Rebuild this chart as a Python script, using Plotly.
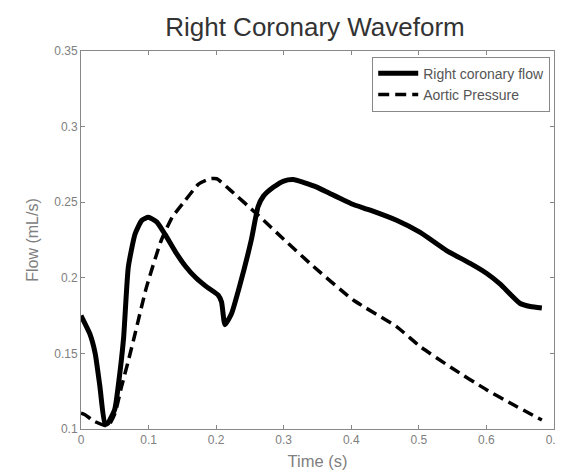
import plotly.graph_objects as go

flow_t = [0.0, 0.013, 0.021, 0.028, 0.0355, 0.040, 0.050, 0.055, 0.063, 0.070, 0.080, 0.090, 0.0996,
          0.112, 0.124, 0.140, 0.154, 0.170, 0.186, 0.203, 0.208, 0.213, 0.2225, 0.235, 0.252,
          0.262, 0.270, 0.285, 0.300, 0.314, 0.330, 0.349, 0.3685, 0.400, 0.428, 0.467, 0.502,
          0.541, 0.576, 0.600, 0.620, 0.650, 0.665, 0.682]
flow_v = [0.175, 0.163, 0.150, 0.128, 0.103, 0.104, 0.113, 0.128, 0.160, 0.207, 0.229, 0.238, 0.240,
          0.237, 0.229, 0.217, 0.208, 0.200, 0.194, 0.1886, 0.184, 0.169, 0.176, 0.195, 0.225,
          0.247, 0.254, 0.260, 0.264, 0.265, 0.263, 0.260, 0.2557, 0.249, 0.2447, 0.238, 0.230,
          0.218, 0.2095, 0.203, 0.196, 0.183, 0.181, 0.180]

press_t = [0.0, 0.006, 0.020, 0.040, 0.050, 0.060, 0.070, 0.080, 0.097, 0.119, 0.135, 0.154,
           0.174, 0.191, 0.201, 0.216, 0.2624, 0.300, 0.339, 0.403, 0.467, 0.502, 0.550, 0.600,
           0.640, 0.682]
press_v = [0.1105, 0.1094, 0.105, 0.102, 0.110, 0.128, 0.145, 0.163, 0.194, 0.225, 0.240, 0.251,
           0.262, 0.2655, 0.2655, 0.260, 0.2413, 0.2255, 0.2095, 0.1853, 0.1677, 0.1545, 0.140, 0.126,
           0.116, 0.106]

x_ticks = [0, 0.1, 0.2, 0.3, 0.4, 0.5, 0.6, 0.7]
x_tick_labels = ["0", "0.1", "0.2", "0.3", "0.4", "0.5", "0.6", "0.7"]
y_ticks = [0.1, 0.15, 0.2, 0.25, 0.3, 0.35]
y_tick_labels = ["0.1", "0.15", "0.2", "0.25", "0.3", "0.35"]

FONT = "Arial, Liberation Sans, sans-serif"
# page body has an 8px default margin, so the figure is drawn 8px in from the top-left
W, H = 555, 465

fig = go.Figure()
fig.add_trace(go.Scatter(x=flow_t, y=flow_v, mode="lines", name="Right coronary flow",
                         line=dict(color="black", width=5, shape="spline", smoothing=0.5)))
fig.add_trace(go.Scatter(x=press_t, y=press_v, mode="lines", name="Aortic Pressure",
                         line=dict(color="black", width=3.5, dash="11px,6px", shape="spline", smoothing=0.5)))

axis_common = dict(showgrid=False, zeroline=False, showline=True, linecolor="#888888", linewidth=1,
                   mirror="ticks", ticks="inside", ticklen=4, tickcolor="#888888", automargin=False,
                   tickfont=dict(family=FONT, size=12, color="#808080"))

fig.update_layout(
    width=W, height=H,
    margin=dict(l=73, r=9, t=43, b=44),
    paper_bgcolor="white", plot_bgcolor="white",
    title=dict(text="Right Coronary Waveform", x=307 / W, xanchor="center", y=1 - 19 / H, yanchor="middle",
               font=dict(family=FONT, size=26, color="#333333")),
    xaxis=dict(range=[0, 0.7], tickvals=x_ticks, ticktext=x_tick_labels,
               title=dict(text="Time (s)", standoff=9,
                          font=dict(family=FONT, size=16.5, color="#808080")),
               **axis_common),
    yaxis=dict(range=[0.1, 0.35], tickvals=y_ticks, ticktext=y_tick_labels,
               title=dict(text="Flow (mL/s)", standoff=11,
                          font=dict(family=FONT, size=16, color="#808080")),
               **axis_common),
    legend=dict(x=0.992, y=0.985, xanchor="right", yanchor="top", bgcolor="white",
                bordercolor="#888888", borderwidth=1, tracegroupgap=0, itemwidth=40,
                font=dict(family=FONT, size=14, color="#555555")),
    showlegend=True,
)

fig.write_html("out.html")
